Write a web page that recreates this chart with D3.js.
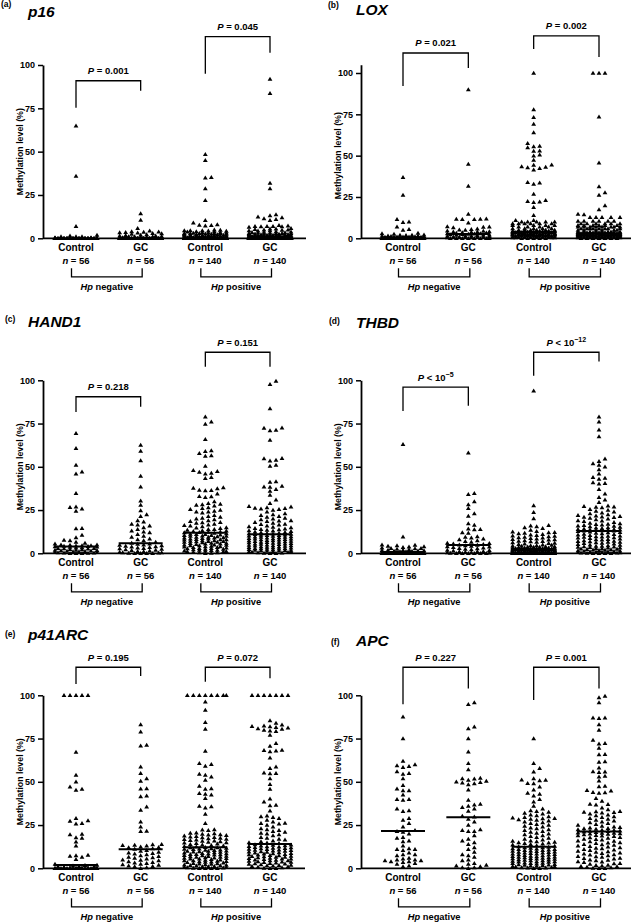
<!DOCTYPE html>
<html><head><meta charset="utf-8">
<script src="https://cdn.jsdelivr.net/npm/d3@7"></script>
<style>
body{margin:0;background:#fff}
svg text{font-family:"Liberation Sans",Arial,Helvetica,sans-serif;font-weight:bold;fill:#000}
</style>
</head><body>
<svg id="chart" width="633" height="923"></svg>
<script>
// ---------------- DATA ----------------
const groupLabels = ["Control", "GC", "Control", "GC"];
const groupN = [56, 56, 140, 140];
const hpLabels = ["negative", "positive"];
const yTickValues = [0, 25, 50, 75, 100];
const genes = ["p16", "LOX", "HAND1", "THBD", "p41ARC", "APC"];
const panelTags = ["(a)", "(b)", "(c)", "(d)", "(e)", "(f)"];
const pOps = [["=", "="], ["=", "="], ["=", "="], ["<", "<"], ["=", "="], ["=", "="]];
const pNums = [["0.001", "0.045"], ["0.021", "0.002"], ["0.218", "0.151"], ["10", "10"], ["0.195", "0.072"], ["0.227", "0.001"]];
const pExps = [["", ""], ["", ""], ["", ""], ["\u22125", "\u221212"], ["", ""], ["", ""]];

// p16
const p16_ctrlNeg = [65,36,7,2,1.5,1,1,1,0.5,0.5,
 0,0,0,0,0,0,0,0,0,0,0,0,0,0,0,0,0,0,0,0,0,0,0,0,0,0,0,0,0,0,0,0,0,0,0,0,0,0,0,0,0,0,0,0,0,0];
const p16_gcNeg = [14.4,10.6,5.8,4.4,4,3.8,3.6,3.5,3.4,3.2,3,2.8,2.5,2.2,2,1.8,1.5,1.5,1.2,1,1,1,0.8,0.5,0.5,
 0,0,0,0,0,0,0,0,0,0,0,0,0,0,0,0,0,0,0,0,0,0,0,0,0,0,0,0,0,0,0];
const p16_ctrlPos = [48.5,45,35.2,35,28.8,22,10.4,9,8,7.7,7.5,7.3,5,4.8,4.6,4.5,4.5,4.4,4.2,4,4,3.8,3.5,3.4,3.3,3.2,3.1,3,3,3,
 2.9,2.8,2.6,2.5,2.5,2.4,2.3,2.2,2.1,2,2,2,2,1.9,1.8,1.7,1.6,1.5,1.5,1.4,1.3,1.2,1.2,1.1,1,1,1,1,1,
 0.5,0.5,0.5,0.5,0.5,0.5,0.5,0.5,0.5,0.5,0.5,0.5,0.5,0.5,0.5,0.5,0.5,0.5,0.5,0.5,
 0,0,0,0,0,0,0,0,0,0,0,0,0,0,0,0,0,0,0,0,0,0,0,0,0,0,0,0,0,0,0,0,0,0,0,0,0,0,0,0,0,0,0,0,0,0,0,0,0,0,0,0,0,0,0,0,0,0,0,0,0];
const p16_gcPos = [92,83.7,32,28.8,13.8,13.2,12.5,12,11.5,11,10.5,7.5,7.2,7,7,7,6.8,6.8,6.5,5.8,5.5,5.5,5.2,5,5,4.8,4.6,4.5,4.4,4,
 3.8,3.6,3.5,3.4,3.3,3.2,3,3,3,2.9,2.8,2.6,2.5,2.5,2.4,2.3,2.2,2.1,2,2,2,2,1.9,1.8,1.7,1.6,1.5,1.5,1.4,1.3,1.2,1.2,1.1,1,1,1,1,1,0.9,0.8,0.8,
 0.5,0.5,0.5,0.5,0.5,0.5,0.5,0.5,0.5,0.5,0.5,0.5,0.5,0.5,0.5,0.5,0.5,0.5,0.5,0.5,
 0,0,0,0,0,0,0,0,0,0,0,0,0,0,0,0,0,0,0,0,0,0,0,0,0,0,0,0,0,0,0,0,0,0,0,0,0,0,0,0,0,0,0,0,0,0,0,0,0];
const p16_medians = [0, 0.3, 0.5, 1];

// LOX
const lox_ctrlNeg = [36.9,26.2,11.5,10,9.8,7,5.5,5,3.2,3,2.6,2.2,2,2,1.8,1.6,1.5,1.4,1.2,1.2,1.1,1,1,1,0.8,0.8,0.6,0.6,
 0,0,0,0,0,0,0,0,0,0,0,0,0,0,0,0,0,0,0,0,0,0,0,0,0,0,0,0];
const lox_gcNeg = [90,45,31.7,14.7,11.8,11.7,11.7,11.6,11.5,9.5,7.2,7,6.8,6.5,5.8,5.5,5.2,5,4.6,4.4,4.2,4,4,3.8,3.6,3.4,3.2,3,3,2.8,
 2.6,2.5,2.4,2.2,2,2,1.8,1.6,1.5,1.4,1.2,1,1,1,0.8,0.6,0.5,0.5,0,0,0,0,0,0,0,0];
const lox_ctrlPos = [100,78,73.2,69.2,64.1,57.5,55.8,55.5,55,53,52.8,50.5,50,47.4,44.6,44.4,43.5,43.2,42.8,42.4,41.5,34,33.6,32.9,26.8,23,22.4,22.2,21.8,18.8,13.9,
 11,11,10,10,10,10,10,9,9,9,9,9,9,8,8,8,8,7,7,7,7,6,6,6,6,6,5,5,5,5,5,5,4.5,4.5,4.5,4.5,4.5,4.5,
 4,4,4,4,4,4,4,4,4,4,3.5,3.5,3.5,3.5,3.5,3.5,3.5,3.5,3,3,3,3,3,3,3,3,3,3,2.5,2.5,2.5,2.5,2.5,2.5,2.5,2.5,
 2,2,2,2,2,2,2,2,2,2,1.5,1.5,1.5,1.5,1.5,1.5,1.5,1.5,1,1,1,1,1,1,1,1,0.5,0.5,0.5,0.5,0,0,0,0,0];
const lox_gcPos = [100,100,100,73.6,45.8,31.3,27.8,26.2,19.8,17.5,14.7,14.5,12.7,12.7,12.7,12.7,12.7,10.5,10.5,10.5,10.5,10.5,10.5,
 9,9,9,9,9,9,8,8,8,8,8,8,7,7,7,7,7,7,7,7,6,6,6,6,6,6,6,6,5,5,5,5,5,5,4,4,4,4,4,4,4,4,
 3.5,3.5,3.5,3.5,3.5,3.5,3.5,3.5,3.5,3.5,3,3,3,3,3,3,3,3,3,3,3,3,2.5,2.5,2.5,2.5,2.5,2.5,2.5,2.5,
 2,2,2,2,2,2,2,2,2,2,2,2,1.5,1.5,1.5,1.5,1.5,1.5,1.5,1.5,1,1,1,1,1,1,1,1,1,1,0.5,0.5,0.5,0.5,0.5,0.5,0.5,0.5,0,0,0,0,0,0,0];
const lox_medians = [0.6, 2.6, 4, 3];

// HAND1
const hand1_ctrlNeg = [69.4,60.7,51,47.2,46,34.7,26.9,26.6,25.8,24.5,14.5,14.4,10.6,9.2,7.7,7.5,6.5,6,5.5,5,5,4.8,4.6,4.5,4.4,4.2,4.1,4,
 3.8,3.6,3.4,3.2,3,3,2.8,2.6,2.4,2.2,2,2,1.8,1.6,1.5,1.4,1.2,1,1,0.8,0.6,0.5,0.4,0.3,0.2,0.1,0,0];
const hand1_gcNeg = [62.6,59.2,53.6,44.7,38.5,30.4,27.9,24.7,22.5,21.5,19,18.3,17,16.5,16,15,14,13,12.5,12,11,10,9.5,8.5,8,7.5,6.5,6,
 5.6,5.4,5,4.8,4.5,4.2,4,3.8,3.5,3.2,3,2.8,2.5,2.2,2,1.8,1.5,1.2,1,0.8,0.5,0.5,0.3,0.2,0,0,0,0];
const hand1_ctrlPos = [79,76,74.8,66,59.5,59,57.8,56.5,56.3,50.5,48,47.5,47,46.5,46,44,43.4,38,37.8,37.5,36.6,36.5,36.3,34.5,33,32.8,32.5,30,29,28.5,
 28.3,28,27.5,26.5,26,25.5,25,24.5,24,24,23.5,22,21.5,21,20.5,20,19.5,19,18.5,18,17.8,17.5,17,16.5,16.2,16,15.5,15,14.8,14.5,
 14,14,13.5,13.2,13,12.8,12.5,12.3,12.2,12,
 11.8,11.5,11.2,11,10.8,10.5,10.2,10,9.8,9.5,9.2,9,8.8,8.5,8.2,8,7.8,7.5,7.2,7,6.8,6.5,6.2,6,5.8,5.5,5.2,5,4.8,4.5,
 4.2,4,3.8,3.5,3.2,3,2.8,2.5,2.2,2,1.8,1.5,1.2,1,0.8,0.5,0.2,0,
 11,10,9,8,7,6,5,4,3,2,1,0.5,10.5,9.5,8.5,7.5,6.5,5.5,4.5,3.5,2.5,1.5];
const hand1_gcPos = [99.6,97.7,83.8,72.6,72.5,71.3,71,65.5,55,54.8,54,53.5,51,50.5,41.5,41.2,39,38.5,38.3,37,36,33.7,31,29,27.2,27,26.5,26.2,26,25.8,
 25.5,25,24,23,22.5,22,21.5,21,20.5,20,19.5,19,18.8,18.5,18,17.5,17,16.8,16.5,16,15.5,15.2,15,14.5,14.2,14,13.8,13.5,13.2,13,
 12.8,12.5,12.2,12,11.8,11.6,11.5,11.3,11.2,11,
 10.8,10.5,10.2,10,9.8,9.5,9.2,9,8.8,8.5,8.2,8,7.8,7.5,7.2,7,6.8,6.5,6.2,6,5.8,5.5,5.2,5,4.8,4.5,4.2,4,3.8,3.5,
 3.2,3,2.8,2.5,2.2,2,1.8,1.5,1.2,1,0.8,0.5,0.2,0,
 10.6,9.6,8.6,7.6,6.6,5.6,4.6,3.6,2.6,1.6,0.6,10.4,9.4,8.4,7.4,6.4,5.4,4.4,3.4,2.4,1.4,0.4,3,2,1,0];
const hand1_medians = [3.9, 5.8, 11.9, 11];

// THBD
const thbd_ctrlNeg = [63,9.6,5,4.8,4.6,4.2,4,3.8,3.5,3.2,3,3,2.8,2.5,2.2,2,2,1.8,1.6,1.5,1.4,1.2,1,1,1,0.8,0.8,0.6,
 0.6,0.5,0.5,0.4,0.4,0.3,0.3,0.2,0.2,0.1,0.1,0,0,0,0,0,0,0,0,0,0,0,0,0,0,0,0,0];
const thbd_gcNeg = [58.2,34.7,34.2,29.9,28.3,26,23.1,21.6,17.3,16.4,14.2,14,13.8,12,11.8,9.8,9.5,9,8.5,8,7.5,7,6.5,6,5.8,5.5,5.2,5,
 4.8,4.5,4.2,4,3.8,3.5,3.2,3,2.8,2.5,2.2,2,1.8,1.5,1.2,1,1,0.8,0.5,0.5,0.3,0.2,0,0,0,0,0,0];
const thbd_ctrlPos = [94,27.6,23.7,20.2,16.2,16,15.5,15,14.5,13.5,12.8,12.5,12.2,12,11.8,11.5,11,10.8,10.5,10.2,10,9.8,9.5,9.2,9,8.8,8.5,8.2,8,7.8,
 7.5,7.2,7,6.8,6.5,6.2,6,5.8,5.5,5.2,5,4.8,4.6,4.5,4.4,4.2,4,3.9,3.8,3.7,3.6,3.5,3.4,3.3,3.2,3.1,3,3,2.9,2.9,
 2.8,2.8,2.7,2.7,2.6,2.6,2.6,2.5,2.5,2.5,
 2.4,2.4,2.3,2.3,2.2,2.2,2.1,2.1,2,2,1.9,1.9,1.8,1.8,1.7,1.7,1.6,1.6,1.5,1.5,1.4,1.4,1.3,1.3,1.2,1.2,1.1,1.1,1,1,
 0.9,0.9,0.8,0.8,0.7,0.7,0.6,0.6,0.5,0.5,0.4,0.4,0.3,0.3,0.2,0.2,0.1,0.1,0,0,
 0,0,0,0,0,0,0,0,0,0,0,0,0,0,0,0,0,0,0,0];
const thbd_gcPos = [78.9,76.1,71.5,67.5,54.7,53.3,52,51,50,48.5,46,44,43.5,43,41,40.5,40.3,37,34.5,32.5,31,29.5,27.5,27.2,27,26.8,26.5,25.5,25,24.5,
 24,23.5,23,22.5,22,21.8,21.5,21.2,21,20.8,20.5,20,19.5,19,18.8,18.5,18,17.5,17.2,17,16.8,16.5,16.2,16,15.8,15.5,15.2,15,14.8,14.5,
 14.2,14,14,13.8,13.6,13.5,13.4,13.2,13.1,13,
 12.8,12.5,12.2,12,11.8,11.5,11.2,11,10.8,10.5,10.2,10,9.8,9.5,9.2,9,8.8,8.5,8.2,8,7.8,7.5,7.2,7,6.8,6.5,6.2,6,5.8,5.5,
 5.2,5,4.8,4.5,4.2,4,3.8,3.5,3.2,3,2.8,2.5,2.2,2,1.8,1.5,1.2,1,0.8,0.5,0.3,0,0,0,0,0.2,0.4,0.6,0.9,1.1,
 1.4,1.7,2.1,2.4,2.7,3.3,3.7,4.3,6.6,9.6];
const thbd_medians = [0.7, 4.8, 2.5, 12.9];

// p41ARC
const p41_ctrlNeg = [100,100,100,100,100,67.2,53.9,50,47.2,45.9,45.3,28.9,27.6,27.4,26,25.8,19.8,19.5,17.9,17.5,15.4,13.1,7.7,7.5,7.2,6.5,5.2,2.5,
 2,1.8,1.5,1.2,1,1,0.8,0.5,0.5,0.3,0.2,0,0,0,0,0,0,0,0,0,0,0,0,0,0,0,0,0];
const p41_gcNeg = [83.2,79,71.3,70.8,58.8,54.9,52,50.5,46.2,46,42,41.5,35.6,33.7,27,24,21.6,21.4,14,13.8,13.5,13.3,13,12.5,12.2,12,11.5,11.2,
 10.5,10,9.5,9,8.5,8,7.5,7,6.5,6,5.5,5,4.5,4,3.5,3,2.5,2,1.5,1,0.5,0,6.2,4.8,3.2,8.8,2.2,1.2];
const p41_ctrlPos = [100,100,100,100,100,100,100,100,96.3,91.5,84.4,80.5,67.8,60.7,60.2,59.2,54.5,54,53,51,47.6,46.2,45.8,43.4,43,42.5,40.5,36,35.8,35,
 31.4,26,22.5,22.3,22,20.6,20.4,20.2,19.8,19.6,19.4,19.2,18.8,18.5,18.2,18,17.8,17.5,17.2,17,16.8,16.5,16.2,16,15.8,15.5,15.2,15,14.8,14.5,
 14.2,14,13.7,13.4,13.1,12.8,12.5,12.2,12.1,12,
 11.8,11.5,11.2,11,10.8,10.5,10.2,10,9.8,9.5,9.2,9,8.8,8.5,8.2,8,7.8,7.5,7.2,7,6.8,6.5,6.2,6,5.8,5.5,5.2,5,4.8,4.5,
 4.2,4,3.8,3.5,3.2,3,2.8,2.5,2.2,2,1.8,1.5,1.2,1,0.8,0.5,0.2,0,0,0,
 11.4,10.6,9.6,8.6,7.6,6.6,5.6,4.6,3.6,2.6,1.6,0.6,10.1,8.1,6.1,4.1,2.1,1.1,0.3,0];
const p41_gcPos = [100,100,100,100,100,100,100,85.4,84,83,82.5,82.2,82,81.5,81.2,80.8,80.5,80,79.5,79.2,77.1,72.3,70.7,68.4,68.2,68,67.5,64,58.8,57.8,
 55.3,55,54.8,52,48.6,45.9,40.3,38.5,36.6,36.3,33.3,30.4,30,29.5,29,28,27,26.2,26,25.8,25,24,23,22.5,22,21.5,21,20.5,20,19.5,
 19,18,17.5,17,16.5,16,15.5,15,14.8,14.5,
 13.8,13.5,13.2,13,12.5,12,11.5,11,10.5,10,9.5,9,8.5,8,7.5,7,6.5,6,5.5,5,4.5,4,3.5,3,2.5,2,1.5,1,0.5,0,
 13.6,12.8,12.2,11.8,11.2,10.8,10.2,9.8,9.2,8.8,8.2,7.8,7.2,6.8,6.2,5.8,5.2,4.8,4.2,3.8,3.2,2.8,2.2,1.8,1.2,0.8,0.2,0,12.6,11.6,
 10.6,9.6,8.6,7.6,6.6,5.6,4.6,3.6,2.6,1.6];
const p41_medians = [1.9, 11, 12.1, 14.1];

// APC
const apc_ctrlNeg = [87.7,75.1,62,60,59.5,59,58.5,56,55,54.5,52,48,46,45,45,42.5,40,40,39.5,34.5,33.5,33,29,28,26,24,22,21.5,
 21,20,18,17.5,16,15.5,13,11.5,11,11,10.5,9,8,8,7.5,6,5.5,5,5,4.5,4.5,4,4,3.5,3,2.5,1.5,1];
const apc_gcNeg = [95.8,94.8,81.9,80.9,75.1,67.4,60.7,57.2,52.2,52,51.8,51,50.5,50.1,49.8,49.5,49,48.5,45.5,39.5,37.2,36.8,36,35.3,34.5,33.1,30.2,29.8,
 28.5,27,25,22.5,22,21.5,21.5,19,17,16,15,14,12,11,9.5,8,7.5,6.5,5,4.5,3,2.5,2,1.5,1,0.5,0.5,0];
const apc_ctrlPos = [75.1,60.7,57.8,55.9,52,51.2,51,50.8,49.2,49,47.2,45.5,43.5,43,42,40,38.5,36,34.5,33.5,33,32.5,32,31.5,31,30.5,30,29.5,29.2,29,
 28.8,28.5,28.2,28,27.5,27,26.5,26,25.5,25,24.5,24,23.5,23,22.5,22,21.5,21,20.5,20,19.5,19,18.5,18,17.5,17,16.5,16,15.8,15.5,
 15.2,15,14.8,14.5,14.2,14,13.6,13.2,12.9,12.6,
 12.3,12,11.7,11.4,11.1,10.8,10.5,10.2,9.9,9.6,9.3,9,8.7,8.4,8.1,7.8,7.5,7.2,6.9,6.6,6.3,6,5.7,5.4,5.1,4.8,4.5,4.2,3.9,3.6,
 3.3,3,2.7,2.4,2.1,1.8,1.5,1.2,0.9,0.6,0.3,0,12.1,11,10,9,8,7,6.2,5.5,4.6,3.8,2.9,2,1,0.5,11.5,10.4,9.4,8.5,
 7.6,6.7,5.9,5,4,3.1,2.2,1.3,0.4,0];
const apc_gcPos = [99.6,98.8,95.8,87.1,87,86.8,83.2,80,74.2,72.3,72,69.5,66,65.8,61.7,61.5,58.2,56,55.9,55.6,53.4,53,50.7,47.6,47.3,45.2,44.8,44,43.8,43.5,
 40.5,39,37.2,37,36.8,35,34,33,32.8,32.6,32.4,32.2,31.5,31,30.5,30,29.5,29,28.5,28,27.5,27,26.5,26,25.5,25,24.5,24,23.8,23.5,
 23.2,23,22.8,22.5,22.2,22,21.8,21.6,21.4,21.2,
 20.8,20.5,20.2,20,19.5,19,18.5,18,17.5,17,16.5,16,15.5,15,14.5,14,13.5,13,12.5,12,11.5,11,10.5,10,9.5,9,8.5,8,7.5,7,
 6.5,6,5.5,5,4.5,4,3.5,3,2.5,2,1.5,1,0.5,0,0,20.6,19.8,18.8,17.8,16.8,15.8,14.8,13.8,12.8,11.8,10.8,9.8,8.8,7.8,6.8,
 5.8,4.8,3.8,2.8,1.8,0.8,0.2,20.4,19.2,1.2];
const apc_medians = [21.6, 29.5, 12.5, 21.2];

const panelValues = [
  [p16_ctrlNeg, p16_gcNeg, p16_ctrlPos, p16_gcPos],
  [lox_ctrlNeg, lox_gcNeg, lox_ctrlPos, lox_gcPos],
  [hand1_ctrlNeg, hand1_gcNeg, hand1_ctrlPos, hand1_gcPos],
  [thbd_ctrlNeg, thbd_gcNeg, thbd_ctrlPos, thbd_gcPos],
  [p41_ctrlNeg, p41_gcNeg, p41_ctrlPos, p41_gcPos],
  [apc_ctrlNeg, apc_gcNeg, apc_ctrlPos, apc_gcPos]
];
const panelMedians = [p16_medians, lox_medians, hand1_medians, thbd_medians, p41_medians, apc_medians];

// ---------------- LAYOUT (positions / styles) ----------------
const layout = [
  {ax:43,  xEnd:306, y0:238.3, y100:65,   ymax:100, c:[76,270],  tag:[1,6.5],   gene:[28,16.7],
   br:[[90.9,75.3,85.1],[116.4,95,107.1]]},
  {ax:361, xEnd:631, y0:238.3, y100:73,   ymax:105, c:[403,599], tag:[328,7.5], gene:[356,15.3],
   br:[[112.1,92.1,103],[122.4,114.5,109.7]]},
  {ax:43,  xEnd:306, y0:553.3, y100:380.3, ymax:100, c:[76,270],  tag:[5,322],   gene:[28,326.7],
   br:[[90.5,81.7,84.7],[116.2,107.9,107.9]]},
  {ax:361, xEnd:631, y0:553.3, y100:380.3, ymax:100, c:[403,599], tag:[329,324], gene:[356,328.3],
   br:[[96,82.3,85.3],[116.2,102.7,110.8]]},
  {ax:43,  xEnd:305, y0:868.3, y100:695.3, ymax:100, c:[76,270],  tag:[5,637],   gene:[28,639.5],
   br:[[116.2,106.5,111.2],[116.2,107.9,109.8]]},
  {ax:361, xEnd:631, y0:868.3, y100:695.3, ymax:100, c:[403,599], tag:[331,645], gene:[356,646],
   br:[[116.2,94.8,104],[116.2,97.3,104]]}
];

const svg = d3.select("#chart");
const triPath = "M0,-2.2L2.4,1.8L-2.4,1.8Z";

// beeswarm placement on a half-spacing lattice, limited width; overlaps allowed when full
function swarm(vals, y, cx) {
  const sorted = vals.slice().sort((a, b) => a - b);
  const W = 5.6, H = 3.9, step = 3, maxK = 7;
  const cands = [0];
  for (let k = 1; k <= maxK; k++) { cands.push(k * step, -k * step); }
  const placed = [];
  sorted.forEach(v => {
    const py = y(v);
    let best = null, bestScore = Infinity;
    for (const off of cands) {
      let ov = 0;
      for (const p of placed) {
        const dy = Math.abs(p.py - py);
        if (dy >= H) continue;
        const dx = Math.abs(p.off - off);
        if (dx >= W) continue;
        ov += (W - dx) * (H - dy);
      }
      const score = ov + Math.abs(off) * 0.001;
      if (score < bestScore) { bestScore = score; best = off; }
    }
    placed.push({v, py, off: best});
  });
  return placed.map(p => ({v: p.v, x: cx + p.off}));
}

layout.forEach((L, pi) => {
  const g = svg.append("g");
  const y = d3.scaleLinear().domain([0, 100]).range([L.y0, L.y100]);
  const x = d3.scalePoint().domain([0, 1, 2, 3]).range(L.c);

  g.append("text").attr("x", L.tag[0]).attr("y", L.tag[1]).attr("font-size", 8.5).text(panelTags[pi]);
  g.append("text").attr("x", L.gene[0]).attr("y", L.gene[1]).attr("font-size", 15.5)
    .attr("font-style", "italic").text(genes[pi]);

  const yAxisScale = d3.scaleLinear().domain([0, L.ymax]).range([L.y0, y(L.ymax)]);
  const ya = g.append("g").attr("transform", `translate(${L.ax},0)`)
    .call(d3.axisLeft(yAxisScale).tickValues(yTickValues).tickSize(5).tickSizeOuter(0).tickPadding(3));
  ya.attr("font-family", null);
  ya.select(".domain").attr("stroke", "#000").attr("stroke-width", 1.8);
  ya.selectAll(".tick line").attr("stroke", "#000").attr("stroke-width", 1.5);
  ya.selectAll(".tick text").attr("font-size", 9).attr("fill", "#000");

  g.append("line").attr("x1", L.ax).attr("x2", L.xEnd).attr("y1", L.y0).attr("y2", L.y0)
    .attr("stroke", "#000").attr("stroke-width", 1.8);

  g.append("text").attr("transform", `translate(${L.ax - 20.5},${(L.y0 + L.y100) / 2}) rotate(-90)`)
    .attr("text-anchor", "middle").attr("font-size", 8.8).text("Methylation level (%)");

  panelValues[pi].forEach((vals, gi) => {
    const pts = swarm(vals, y, x(gi));
    g.append("g").selectAll("path").data(pts).join("path")
      .attr("d", triPath).attr("fill", "#000")
      .attr("transform", d => `translate(${d.x.toFixed(2)},${y(d.v).toFixed(2)})`);
  });

  g.append("g").selectAll("line").data(panelMedians[pi]).join("line")
    .attr("x1", (d, i) => x(i) - 22).attr("x2", (d, i) => x(i) + 22)
    .attr("y1", d => y(d)).attr("y2", d => y(d))
    .attr("stroke", "#000").attr("stroke-width", 2);

  groupLabels.forEach((lab, gi) => {
    g.append("text").attr("x", x(gi)).attr("y", L.y0 + 13).attr("text-anchor", "middle")
      .attr("font-size", 10).text(lab);
    const t = g.append("text").attr("x", x(gi)).attr("y", L.y0 + 25.5).attr("text-anchor", "middle")
      .attr("font-size", 9.5);
    t.append("tspan").attr("font-style", "italic").text("n");
    t.append("tspan").text(" = " + groupN[gi]);
  });

  [0, 1].forEach(h => {
    const xl = x(2 * h) - 4.5, xr = x(2 * h + 1) + 1.5, yb = L.y0 + 38.5, yt = L.y0 + 30;
    g.append("path").attr("d", `M${xl},${yt}V${yb}H${xr}V${yt}`).attr("fill", "none")
      .attr("stroke", "#000").attr("stroke-width", 1.3);
    const t = g.append("text").attr("x", (xl + xr) / 2).attr("y", L.y0 + 51.7).attr("text-anchor", "middle")
      .attr("font-size", 9.3);
    t.append("tspan").attr("font-style", "italic").text("Hp");
    t.append("tspan").text(" " + hpLabels[h]);
  });

  L.br.forEach((b, bi) => {
    const xl = x(2 * bi), xr = x(2 * bi + 1);
    const yt = y(b[0]);
    g.append("path").attr("d", `M${xl},${y(b[1])}V${yt}H${xr}V${y(b[2])}`).attr("fill", "none")
      .attr("stroke", "#000").attr("stroke-width", 1.3);
    const t = g.append("text").attr("x", (xl + xr) / 2).attr("y", yt - 6.5).attr("text-anchor", "middle")
      .attr("font-size", 9.5);
    t.append("tspan").attr("font-style", "italic").text("P");
    t.append("tspan").text(" " + pOps[pi][bi] + " " + pNums[pi][bi]);
    if (pExps[pi][bi]) t.append("tspan").attr("font-size", 7).attr("dy", -4).text(pExps[pi][bi]);
  });
});
</script>
</body></html>
